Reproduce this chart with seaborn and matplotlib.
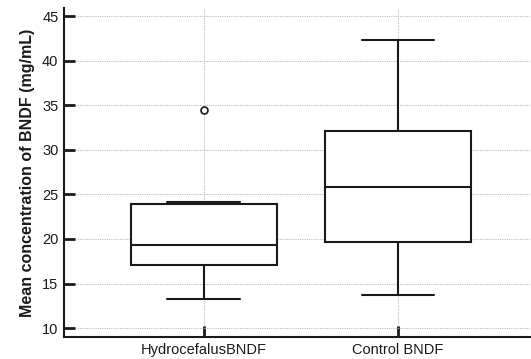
import matplotlib
matplotlib.use("Agg")
import matplotlib.pyplot as plt
import seaborn as sns
import pandas as pd

# Read-off box statistics
groups = ["HydrocefalusBNDF", "Control BNDF"]
whisker_low = [13.21, 13.66]
q1 = [17.05, 19.70]
median = [19.33, 25.83]
q3 = [23.96, 32.16]
whisker_high = [24.10, 42.31]
outliers = [[34.44], []]

yticks = [10, 15, 20, 25, 30, 35, 40, 45]

# Build a sample table whose Tukey statistics reproduce the read-off values
rows = []
for g, lo, a, m, b, hi, outs in zip(groups, whisker_low, q1, median, q3, whisker_high, outliers):
    vals = [lo] + [a] * 10 + [m] * 10 + [b] * 10 + [hi] + list(outs)
    rows += [(g, v) for v in vals]
df = pd.DataFrame(rows, columns=["group", "value"])

sns.set_style("white")
plt.rcParams["font.family"] = ["Liberation Sans", "DejaVu Sans"]

fig = plt.figure(figsize=(5.31, 3.59), dpi=100)
ax = fig.add_axes([64 / 531, 22 / 359, (531 - 64) / 531, (337 - 8) / 359])

sns.boxplot(data=df, x="group", y="value", order=groups, ax=ax, width=0.75,
            color="white", linecolor="#1a1a1a", linewidth=1.5,
            whis=1.5, fill=True,
            flierprops=dict(marker="o", markersize=5, markerfacecolor="white",
                            markeredgecolor="#1a1a1a", markeredgewidth=1.2),
            boxprops=dict(facecolor="white", edgecolor="#1a1a1a"))

ax.set_axisbelow(True)
grid_kws = dict(color="#bdbdbd", linestyle=(0, (1, 1)), linewidth=0.8)
ax.xaxis.grid(True, **grid_kws)
ax.yaxis.grid(True, **grid_kws)

ax.set_xlim(-0.72, 1.685)
ax.set_ylim(9.0, 45.9)
ax.set_yticks(yticks)
ax.set_yticklabels([str(t) for t in yticks])

for side in ["top", "right"]:
    ax.spines[side].set_visible(False)
for side in ["left", "bottom"]:
    ax.spines[side].set_linewidth(1.5)
    ax.spines[side].set_color("#1a1a1a")

ax.tick_params(axis="both", which="major", direction="in", length=8, width=2,
               color="#1a1a1a", labelsize=10.5, labelcolor="#1a1a1a", pad=4,
               left=True, bottom=True)
ax.set_xlabel("")
ax.set_ylabel("Mean concentration of BNDF (mg/mL)", fontsize=11.5, fontweight="bold",
              color="#1a1a1a", labelpad=5)

fig.savefig("out.png", dpi=100)
